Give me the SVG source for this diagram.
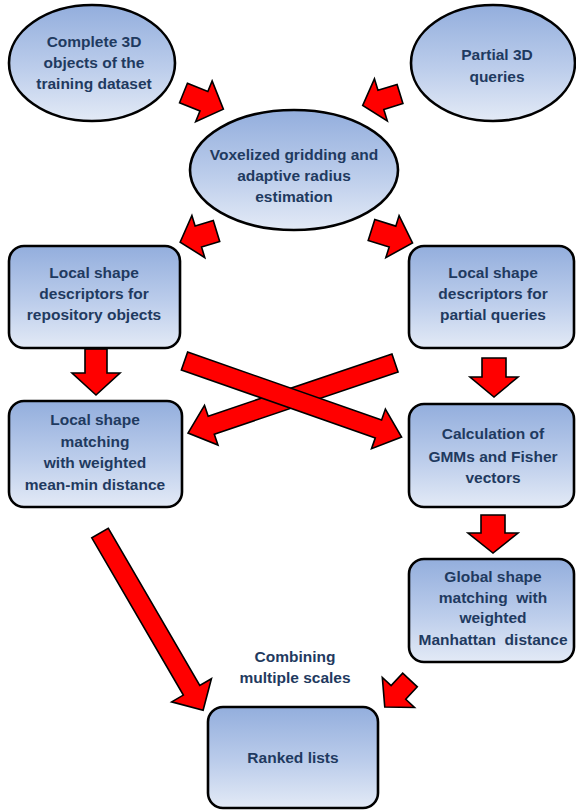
<svg xmlns="http://www.w3.org/2000/svg" width="576" height="812" viewBox="0 0 576 812">
<defs>
<linearGradient id="fillg" x1="0" y1="0" x2="0" y2="1">
<stop offset="0" stop-color="#93aedd"/>
<stop offset="0.55" stop-color="#bccdeb"/>
<stop offset="1" stop-color="#e3eaf6"/>
</linearGradient>
<style>
.shape{fill:url(#fillg);stroke:#000;stroke-width:2.6}
.t{font-family:"Liberation Sans",Arial,sans-serif;font-weight:bold;font-size:15.5px;fill:#1f3a60;text-anchor:middle}
.arr{fill:#ff0000;stroke:#000;stroke-width:1.6;stroke-linejoin:miter}
</style>
</defs>
<rect width="576" height="812" fill="#fff"/>

<g id="connectors">
<polygon class="arr" transform="translate(183.5,93) rotate(22)" points="0,-10.5 22,-10.5 22,-22 43,0 22,22 22,10.5 0,10.5"/>
<polygon class="arr" transform="translate(400,94) rotate(163)" points="0,-10 20,-10 20,-22 39,0 20,22 20,10 0,10"/>
<polygon class="arr" transform="translate(216.5,231) rotate(163)" points="0,-11 19,-11 19,-22 38,0 19,22 19,11 0,11"/>
<polygon class="arr" transform="translate(371.5,230) rotate(17.5)" points="0,-11 22,-11 22,-22 43,0 22,22 22,11 0,11"/>
<polygon class="arr" points="85,349 107,349 107,373 120,373 96,395 72,373 85,373"/>
<polygon class="arr" points="482,358 506,358 506,377 518,377 494,397 470,377 482,377"/>
<polygon class="arr" transform="translate(395,363) rotate(161.3)" points="0,-9.5 194,-9.5 194,-21 218.5,0 194,21 194,9.5 0,9.5"/>
<polygon class="arr" transform="translate(184.5,361) rotate(19.3)" points="0,-9.5 205.5,-9.5 205.5,-21 230,0 205.5,21 205.5,9.5 0,9.5"/>
<polygon class="arr" points="481,515 505,515 505,533 518,533 493,553 468,533 481,533"/>
<polygon class="arr" transform="translate(100,533) rotate(59.8)" points="0,-9.5 182,-9.5 182,-23 205,0 182,23 182,9.5 0,9.5"/>
<polygon class="arr" transform="translate(410,680) rotate(133)" points="0,-10 17,-10 17,-22 37,0 17,22 17,10 0,10"/>
</g>

<g id="complete3d">
<ellipse class="shape" cx="92" cy="63" rx="83" ry="58"/>
<text class="t" x="94" y="47">Complete 3D</text>
<text class="t" x="94" y="68">objects of the</text>
<text class="t" x="94" y="89">training dataset</text>
</g>

<g id="partial3d">
<ellipse class="shape" cx="493" cy="63" rx="82" ry="58"/>
<text class="t" x="497" y="60">Partial 3D</text>
<text class="t" x="497" y="82">queries</text>
</g>

<g id="voxelized">
<ellipse class="shape" cx="294" cy="170" rx="104" ry="60"/>
<text class="t" x="294" y="160">Voxelized gridding and</text>
<text class="t" x="294" y="181">adaptive radius</text>
<text class="t" x="294" y="202">estimation</text>
</g>

<g id="descRepo">
<rect class="shape" x="9" y="246" width="171" height="102" rx="15"/>
<text class="t" x="94" y="278">Local shape</text>
<text class="t" x="94" y="299">descriptors for</text>
<text class="t" x="94" y="320">repository objects</text>
</g>

<g id="descPartial">
<rect class="shape" x="409" y="246" width="165" height="102" rx="15"/>
<text class="t" x="493" y="278">Local shape</text>
<text class="t" x="493" y="299">descriptors for</text>
<text class="t" x="493" y="320">partial queries</text>
</g>

<g id="localMatching">
<rect class="shape" x="9" y="401" width="173" height="106" rx="15"/>
<text class="t" x="95" y="425">Local shape</text>
<text class="t" x="95" y="447">matching</text>
<text class="t" x="95" y="468">with weighted</text>
<text class="t" x="95" y="490">mean-min distance</text>
</g>

<g id="gmm">
<rect class="shape" x="409" y="404" width="165" height="103" rx="15"/>
<text class="t" x="493" y="439">Calculation of</text>
<text class="t" x="493" y="462">GMMs and Fisher</text>
<text class="t" x="493" y="483">vectors</text>
</g>

<g id="globalMatching">
<rect class="shape" x="409" y="559" width="165" height="103" rx="15"/>
<text class="t" x="493" y="582">Global shape</text>
<text class="t" x="493" y="603" xml:space="preserve">matching  with</text>
<text class="t" x="493" y="623">weighted</text>
<text class="t" x="493" y="645" xml:space="preserve">Manhattan  distance</text>
</g>

<g id="combiningLabel">
<text class="t" x="295" y="662">Combining</text>
<text class="t" x="295" y="683">multiple scales</text>
</g>

<g id="ranked">
<rect class="shape" x="208" y="707" width="170" height="101" rx="15"/>
<text class="t" x="293" y="763">Ranked lists</text>
</g>
</svg>
